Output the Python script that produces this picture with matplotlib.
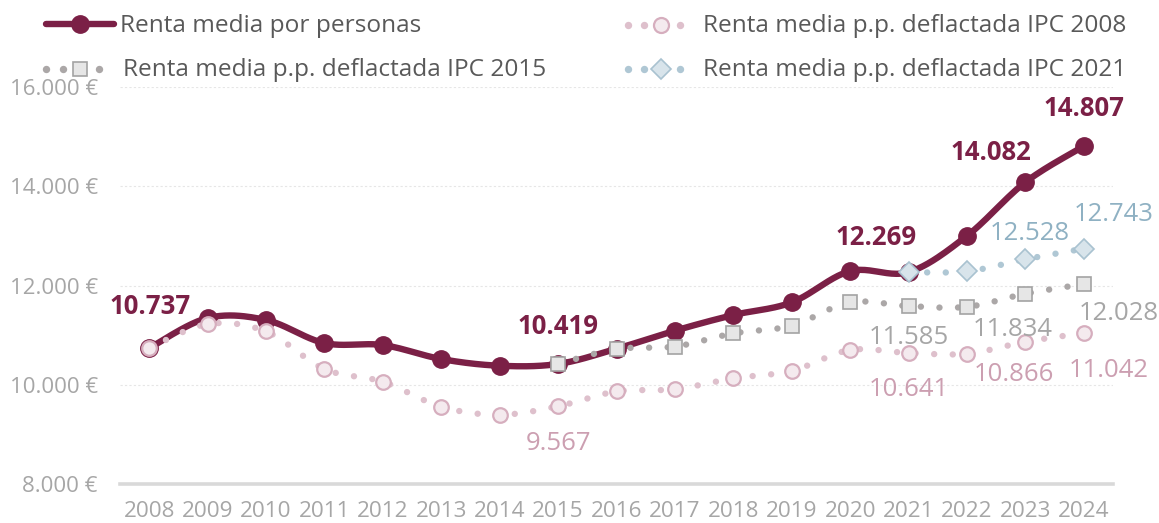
import numpy as np
import matplotlib
matplotlib.use('Agg')
import matplotlib.pyplot as plt

# ---------------- data ----------------
years = list(range(2008, 2025))
renta = [10737, 11345, 11305, 10840, 10800, 10518, 10383, 10419, 10725, 11090,
         11405, 11660, 12290, 12269, 13000, 14082, 14807]
ipc2008 = [10737, 11223, 11075, 10316, 10060, 9556, 9395, 9567, 9865, 9910,
           10130, 10280, 10700, 10641, 10625, 10866, 11042]
years2015 = list(range(2015, 2025))
ipc2015 = [10419, 10720, 10770, 11035, 11190, 11660, 11585, 11570, 11834, 12028]
years2021 = [2021, 2022, 2023, 2024]
ipc2021 = [12269, 12285, 12528, 12743]

legend_labels = ["Renta media por personas", "Renta media p.p. deflactada IPC 2015",
                 "Renta media p.p. deflactada IPC 2008", "Renta media p.p. deflactada IPC 2021"]

# ---------------- style ----------------
plt.rcParams['font.family'] = ['Open Sans', 'DejaVu Sans']
C_MAIN = '#7B2046'
C_PINK_DOT = '#DEC0CC'
C_PINK_EDGE = '#D6AEBE'
C_PINK_FILL = '#F4EAEE'
C_PINK_TXT = '#CC9FB1'
C_GRAY_DOT = '#ABA7A7'
C_GRAY_EDGE = '#A3A3A3'
C_GRAY_FILL = '#E6E6E6'
C_GRAY_TXT = '#A6A6A6'
C_BLUE_DOT = '#AFC7D4'
C_BLUE_EDGE = '#A9C2D0'
C_BLUE_FILL = '#D8E4EB'
C_BLUE_TXT = '#8FB1C3'
C_TICK = '#A6A6A6'
C_LEG = '#595959'
LEG_FS = 17.6
LBL_FS = 18.5


def smooth(x, y, n=24):
    x = np.asarray(x, float); y = np.asarray(y, float)
    px = np.concatenate([[x[0]], x, [x[-1]]])
    py = np.concatenate([[y[0]], y, [y[-1]]])
    ox, oy = [], []
    t = np.linspace(0, 1, n, endpoint=False)
    for i in range(1, len(px) - 2):
        p0, p1, p2, p3 = (px[i-1], py[i-1]), (px[i], py[i]), (px[i+1], py[i+1]), (px[i+2], py[i+2])
        for k, (a0, a1, a2, a3) in enumerate(zip(p0, p1, p2, p3)):
            v = 0.5 * ((2*a1) + (-a0 + a2)*t + (2*a0 - 5*a1 + 4*a2 - a3)*t**2 + (-a0 + 3*a1 - 3*a2 + a3)*t**3)
            (ox if k == 0 else oy).extend(v)
    ox.append(x[-1]); oy.append(y[-1])
    return np.array(ox), np.array(oy)


fig = plt.figure(figsize=(11.59, 5.23), dpi=100)
W, H = 1159, 523
ax = fig.add_axes([120/W, 1 - 484/H, (1113-120)/W, (484-87)/H])

DOT_LW = 4.6
DOT_DASH = (0, (0.01, 2.9))

# main line (bottom)
sx, sy = smooth(years, renta)
ax.plot(sx, sy, color=C_MAIN, lw=4.6, solid_capstyle='round', zorder=3)
ax.plot(years, renta, 'o', color=C_MAIN, ms=12.5, zorder=3.1)

# IPC 2008
sx, sy = smooth(years, ipc2008)
ax.plot(sx, sy, color=C_PINK_DOT, lw=DOT_LW, linestyle=DOT_DASH, dash_capstyle='round', zorder=4)
ax.plot(years, ipc2008, 'o', ms=10.5, mfc=C_PINK_FILL, mec=C_PINK_EDGE, mew=1.6, zorder=4.1)

# IPC 2015
sx, sy = smooth(years2015, ipc2015)
ax.plot(sx, sy, color=C_GRAY_DOT, lw=DOT_LW, linestyle=DOT_DASH, dash_capstyle='round', zorder=5)
ax.plot(years2015, ipc2015, 's', ms=10, mfc=C_GRAY_FILL, mec=C_GRAY_EDGE, mew=1.2, zorder=5.1)

# IPC 2021
sx, sy = smooth(years2021, ipc2021)
ax.plot(sx, sy, color=C_BLUE_DOT, lw=DOT_LW, linestyle=DOT_DASH, dash_capstyle='round', zorder=6)
ax.plot(years2021, ipc2021, 'D', ms=10, mfc=C_BLUE_FILL, mec=C_BLUE_EDGE, mew=1.2, zorder=6.1)


def fmt(v):
    return f"{v:,}".replace(',', '.')


def label(xs, ys, year, dx, dy, color, bold=False):
    v = ys[xs.index(year)]
    ax.annotate(fmt(v), xy=(year, v), xytext=(dx, dy), textcoords='offset pixels',
                ha='center', va='center', fontsize=LBL_FS, color=color,
                fontweight='bold' if bold else 'normal', zorder=10, annotation_clip=False)


label(years, renta, 2008, 1, 42, C_MAIN, True)
label(years, renta, 2015, 0, 37, C_MAIN, True)
label(years, renta, 2021, -32, 35, C_MAIN, True)
label(years, renta, 2023, -34, 30, C_MAIN, True)
label(years, renta, 2024, 0, 38, C_MAIN, True)
label(years, ipc2008, 2015, 0, -37, C_PINK_TXT)
label(years, ipc2008, 2021, 0, -37, C_PINK_TXT)
label(years, ipc2008, 2023, -11, -33, C_PINK_TXT)
label(years, ipc2008, 2024, 25, -37, C_PINK_TXT)
label(years2015, ipc2015, 2021, 0, -31, C_GRAY_TXT)
label(years2015, ipc2015, 2023, -13, -36, C_GRAY_TXT)
label(years2015, ipc2015, 2024, 35, -29, C_GRAY_TXT)
label(years2021, ipc2021, 2023, 4, 26, C_BLUE_TXT)
label(years2021, ipc2021, 2024, 30, 34, C_BLUE_TXT)

# axes
ax.set_xlim(2007.5, 2024.5)
ax.set_ylim(8000, 16000)
ax.set_xticks(years)
ax.set_xticklabels([str(y) for y in years])
yt = [8000, 10000, 12000, 14000, 16000]
ax.set_yticks(yt)
ax.set_yticklabels([fmt(v) + " €" for v in yt])
ax.tick_params(axis='both', length=0, colors=C_TICK)
ax.tick_params(axis='y', pad=16, labelsize=16)
ax.tick_params(axis='x', pad=23.5, labelsize=16.2)
plt.setp(ax.get_xticklabels(), va='baseline')
for s in ['top', 'right', 'left']:
    ax.spines[s].set_visible(False)
ax.spines['bottom'].set_color('#D9D9D9')
ax.spines['bottom'].set_linewidth(2.6)
for v in yt[1:]:
    ax.axhline(v, color='#E6E6E6', lw=0.8, ls=(0, (2, 2)), zorder=0)

# legend in pixel coords
lax = fig.add_axes([0, 0, 1, 1], zorder=20)
lax.set_xlim(0, W); lax.set_ylim(H, 0); lax.axis('off')
lax.patch.set_alpha(0)
lax.plot([46, 114], [24, 24], color=C_MAIN, lw=4.6, solid_capstyle='round')
lax.plot([80], [24], 'o', color=C_MAIN, ms=12.5)
lax.text(120, 32.5, legend_labels[0], fontsize=LEG_FS, color=C_LEG, va='baseline', ha='left')

lax.plot([46, 63, 99], [69]*3, 'o', color=C_GRAY_DOT, ms=5.3, mew=0)
lax.plot([80], [69], 's', ms=10, mfc=C_GRAY_FILL, mec=C_GRAY_EDGE, mew=1.2)
lax.text(123, 76.5, legend_labels[1], fontsize=LEG_FS, color=C_LEG, va='baseline', ha='left')

lax.plot([628, 644, 680], [25]*3, 'o', color=C_PINK_DOT, ms=5.3, mew=0)
lax.plot([661], [25], 'o', ms=10.8, mfc=C_PINK_FILL, mec=C_PINK_EDGE, mew=1.6)
lax.text(703, 32.5, legend_labels[2], fontsize=LEG_FS, color=C_LEG, va='baseline', ha='left')

lax.plot([628, 644, 680], [68.5]*3, 'o', color=C_BLUE_DOT, ms=5.3, mew=0)
lax.plot([661], [68.5], 'D', ms=10, mfc=C_BLUE_FILL, mec=C_BLUE_EDGE, mew=1.2)
lax.text(703, 76.5, legend_labels[3], fontsize=LEG_FS, color=C_LEG, va='baseline', ha='left')

fig.savefig('out.png', dpi=100)
